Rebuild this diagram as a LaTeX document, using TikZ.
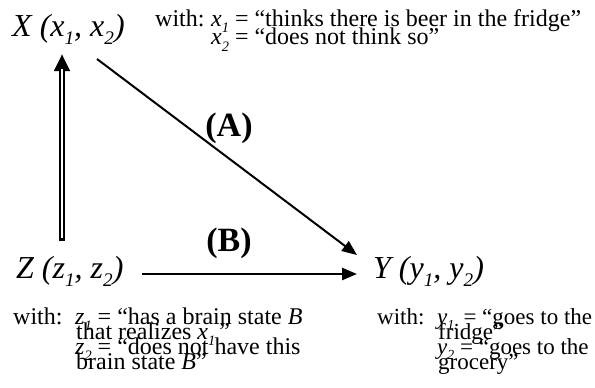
\documentclass[tikz,border=0pt]{standalone}
\usepackage{fontspec}
\usepackage{graphicx}
\setmainfont{Liberation Serif}
\usetikzlibrary{arrows.meta,calc}
\newcommand\sbs[1]{\raisebox{-0.25em}{\scalebox{0.6}{\itshape #1}}}
\begin{document}
\begin{tikzpicture}[x=1pt,y=-1pt,
  big/.style={inner sep=0pt,anchor=base west,font=\fontsize{32}{32}\selectfont\itshape},
  lbl/.style={inner sep=0pt,font=\fontsize{34}{34}\selectfont\bfseries},
  txt/.style={inner sep=0pt,anchor=base west,font=\fontsize{24}{15}\selectfont},
  ytxt/.style={txt,font=\fontsize{23}{15}\selectfont},
  arr/.style={line width=2pt,-{Triangle[length=15pt,width=12pt]}}]
\useasboundingbox (0,0) rectangle (595,388);
% main variables
\node[big] (X) at (12,36) {X (x\sbs{1}, x\sbs{2})};
\node[big] (Z) at (16,278) {Z (z\sbs{1}, z\sbs{2})};
\node[big] (Y) at (373,278) {Y (y\sbs{1}, y\sbs{2})};
% labels
\node[lbl] (A) at (229,128) {(A)};
\node[lbl] (B) at (229,243) {(B)};
% top block
\node[txt] (xw) at (155,27) {with:};
\node[txt] (x1) at (211,27) {\textit{x}\sbs{1} = “thinks there is beer in the fridge”};
\node[txt] (x2) at (211,45) {\textit{x}\sbs{2} = “does not think so”};
% Z block
\node[txt] (zw) at (13,324) {with:};
\node[txt] (z1) at (75,324) {\textit{z}\sbs{1} = “has a brain state \textit{B}};
\node[txt] (z1b) at (76,339) {that realizes \textit{x}\sbs{1}\,”};
\node[txt] (z2) at (75,354) {\textit{z}\sbs{2} = “does not have this};
\node[txt] (z2b) at (76,369) {brain state \textit{B}”};
% Y block
\node[ytxt] (yw) at (377,324) {with:};
\node[ytxt] (y1) at (437,324) {\textit{y}\sbs{1.} = “goes to the};
\node[ytxt] (y1b) at (438,339) {fridge”};
\node[ytxt] (y2) at (437,354) {\textit{y}\sbs{2} = “goes to the};
\node[ytxt] (y2b) at (438,369) {grocery”};
% connectors
\draw[line width=6.5pt,-{Triangle[length=17pt,width=15pt]}]
  ($(Z.base west -| X.base west)+(50,-37)$) -- ($(X.base west)+(50,18)$);
\draw[white,line width=2pt]
  ($(Z.base west -| X.base west)+(50,-40)$) -- ($(X.base west)+(50,33)$);
\draw[arr] ($(X.base west)+(85,23)$) -- ($(Y.base west)+(-16,-23)$);
\draw[arr,line width=2.5pt] ($(Z.base west)+(126,-4)$) -- ($(Y.base west)+(-16,-4)$);
\end{tikzpicture}
\end{document}
